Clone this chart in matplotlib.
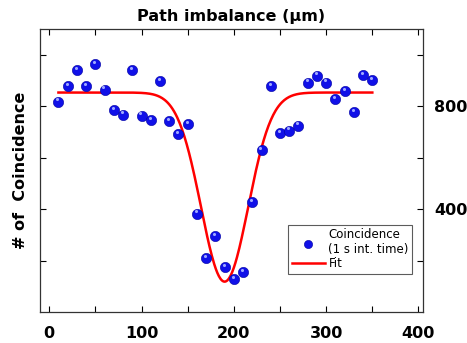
import numpy as np
import matplotlib.pyplot as plt
from matplotlib.ticker import MultipleLocator, FixedLocator

# measured coincidence counts vs path imbalance (um)
path_um = [10, 20, 30, 40, 50, 60, 70, 80, 90, 100, 110, 120, 130, 140, 150,
           160, 170, 180, 190, 200, 210, 220, 230, 240, 250, 260, 270, 280,
           290, 300, 310, 320, 330, 340, 350]
counts = [817, 877, 941, 878, 963, 864, 785, 767, 939, 763, 745, 898, 742,
          692, 729, 382, 210, 295, 173, 127, 155, 426, 630, 878, 695, 705,
          724, 891, 918, 891, 827, 858, 777, 921, 901]

# gaussian dip fit parameters
fit_base = 853
fit_depth = 735
fit_center = 190
fit_sigma = 25.5
fit_range = (10, 350)

y_major = [400, 800]
y_minor = [200, 600, 1000]

fig = plt.figure(figsize=(4.67, 3.43), dpi=100)
ax = fig.add_axes([0.0846, 0.0904, 0.8214, 0.8251])

xf = np.linspace(fit_range[0], fit_range[1], 400)
yf = fit_base - fit_depth * np.exp(-(xf - fit_center) ** 2 / (2 * fit_sigma ** 2))

ax.scatter(path_um, counts, s=55, color='#1010e8', edgecolor='#0000a0',
           linewidth=0.4, zorder=3, label='Coincidence\n(1 s int. time)')
# small highlight to mimic the shaded spheres
ax.scatter(np.array(path_um) - 1.2, np.array(counts) + 9, s=5, color='#9fa8ff',
           linewidth=0, zorder=4)
ax.plot(xf, yf, color='#ff0000', lw=1.8, zorder=2, label='Fit')

ax.set_xlim(-10.5, 405)
ax.set_ylim(0, 1100)

ax.xaxis.set_major_locator(MultipleLocator(100))
ax.xaxis.set_minor_locator(MultipleLocator(50))
ax.yaxis.set_major_locator(FixedLocator(y_major))
ax.yaxis.set_minor_locator(FixedLocator(y_minor))
ax.tick_params(which='both', direction='in', top=True, right=True,
               labelleft=False, labelright=True, width=0.8)
ax.tick_params(which='major', length=4, labelsize=11.5, pad=8)
ax.tick_params(which='minor', length=4)
for lab in ax.get_xticklabels() + ax.get_yticklabels():
    lab.set_fontweight('bold')
ax.tick_params(axis='x', pad=10)

for sp in ax.spines.values():
    sp.set_linewidth(0.9)
    sp.set_color('#333333')

ax.set_title('Path imbalance (\u03bcm)', fontsize=11.5, fontweight='bold', pad=6)
ax.set_ylabel('# of  Coincidence', fontsize=11.5, fontweight='bold', labelpad=8)

leg = ax.legend(loc='lower right', bbox_to_anchor=(0.972, 0.135), fontsize=8.5,
                frameon=True, fancybox=False, edgecolor='#333333',
                handlelength=2.8, handletextpad=0.3, borderpad=0.3,
                labelspacing=0.1, borderaxespad=0, markerscale=0.8)
leg.get_frame().set_linewidth(0.8)

plt.savefig('out.png', dpi=100)
